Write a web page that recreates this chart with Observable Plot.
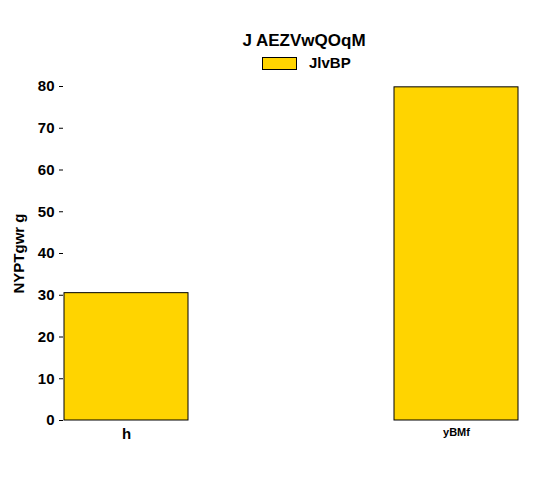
<!DOCTYPE html><html><head><meta charset="utf-8">
<script src="https://cdn.jsdelivr.net/npm/d3@7"></script>
<script src="https://cdn.jsdelivr.net/npm/@observablehq/plot@0.6"></script>
<style>body{margin:0;font-family:"Liberation Sans",Arial,sans-serif;background:#fff}
#wrap{position:relative;width:560px;height:480px}
.t{position:absolute;font-weight:bold;color:#000}
</style></head><body><div id="wrap">
<div class="t" style="left:0;width:608px;top:31px;text-align:center;font-size:17px">J AEZVwQOqM</div>
<div style="position:absolute;left:262px;top:57px;width:33px;height:11px;background:#ffd400;border:1px solid #000"></div>
<div class="t" style="left:309px;top:54px;font-size:15px">JlvBP</div>
</div>
<script>
const categories=["h","yBMf"];
const values=[30.5,79.8];
const data=categories.map((c,i)=>({c,v:values[i]}));
const p=Plot.plot({width:560,height:480,marginLeft:63,marginRight:42,marginTop:86,marginBottom:60,
style:{fontFamily:"Liberation Sans, Arial, sans-serif",fontWeight:"bold",fontSize:"15px",color:"#000"},
x:{domain:categories,paddingInner:0.625,paddingOuter:0,label:"TrqJbA",labelAnchor:"center",labelOffset:45},
y:{domain:[0,80],ticks:d3.range(0,81,10),label:"NYPTgwr g",labelAnchor:"center",labelOffset:50},
marks:[
Plot.barY(data,{x:"c",y:"v",fill:"#ffd400",stroke:"#000",strokeWidth:1}),
Plot.axisY({ticks:d3.range(0,81,10),label:"NYPTgwr g",labelAnchor:"center",labelArrow:"none",labelOffset:50,fontSize:15,tickSize:4}),
Plot.axisX({label:"TrqJbA",labelAnchor:"center",labelArrow:"none",labelOffset:42,tickSize:0,tickPadding:8,
 fontSize:d=>d==="h"?15:11,fontWeight:d=>d==="h"?"bold":"normal"}),
]});
p.style.position="absolute";p.style.left="0";p.style.top="0";
document.getElementById("wrap").prepend(p);
</script></body></html>
